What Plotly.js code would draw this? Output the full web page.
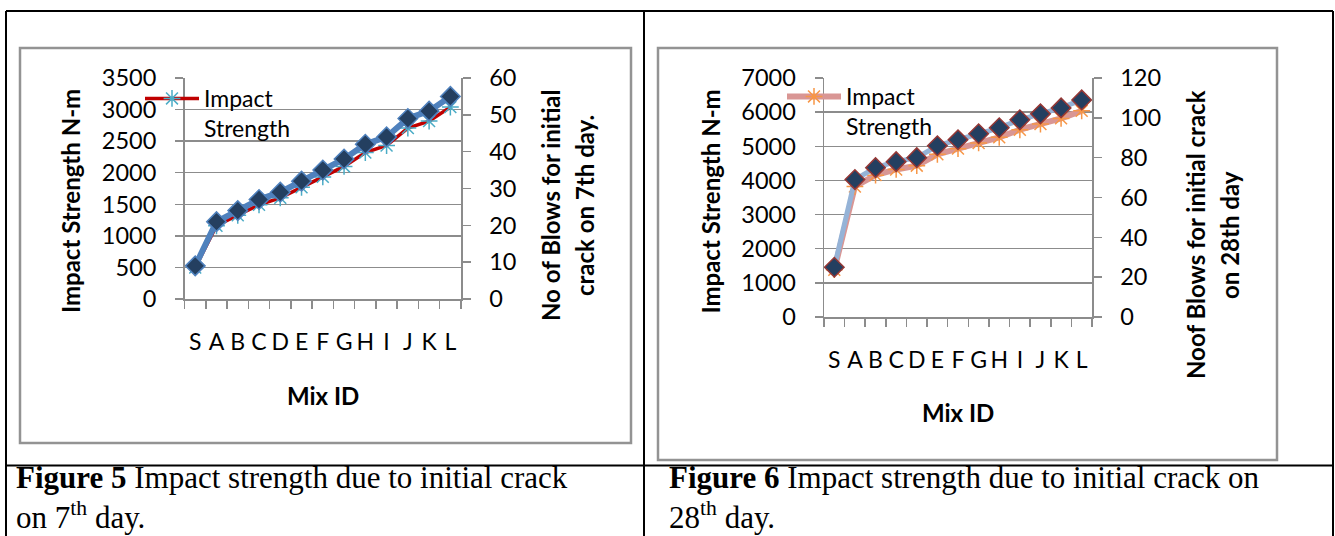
<!DOCTYPE html>
<html>
<head>
<meta charset="utf-8">
<script src="https://cdn.plot.ly/plotly-3.0.1.min.js"></script>
<style>
  html, body { margin: 0; padding: 0; background: #ffffff; }
  #chart { width: 1335px; height: 536px; }
</style>
</head>
<body>
<div id="chart"></div>
<script>
// ---- data ----
const mixIds = ['S', 'A', 'B', 'C', 'D', 'E', 'F', 'G', 'H', 'I', 'J', 'K', 'L'];
// Figure 5 (7th day)
const impact7 = [497, 1160, 1326, 1492, 1602, 1768, 1934, 2100, 2320, 2431, 2707, 2818, 3039];
const blows7 = [9, 21, 24, 27, 29, 32, 35, 38, 42, 44, 49, 51, 55];
// Figure 6 (28th day)
const impact28 = [1385, 3823, 4155, 4321, 4432, 4764, 4931, 5097, 5263, 5485, 5651, 5817, 6039];
const blows28 = [25, 69, 75, 78, 80, 86, 89, 92, 95, 99, 102, 105, 109];

const seriesName = 'Impact<br>Strength';
const fig5Title = ['<b>Figure 5</b> Impact strength due to initial crack', 'on 7<sup>th</sup> day.'];
const fig6Title = ['<b>Figure 6</b> Impact strength due to initial crack on', '28<sup>th</sup> day.'];

// ---- layout helpers (pixel -> paper) ----
const W = 1335, H = 536;
const X = px => px / W;
const Y = py => 1 - py / H;

const FONT = 'Lato, "Open Sans", sans-serif';
const SERIF = '"Liberation Serif", "Times New Roman", serif';
const GRID = '#8C8C8C';

function xAxis(domain, anchor) {
  return {
    domain: domain, anchor: anchor, type: 'category',
    categoryorder: 'array', categoryarray: mixIds,
    range: [-0.5, 12.5], tickson: 'boundaries',
    tickmode: 'linear', tick0: 0, dtick: 1, tickangle: 0,
    ticks: 'outside', ticklen: 8, tickwidth: 1.5, tickcolor: GRID,
    showline: true, linecolor: GRID, linewidth: 1.5,
    showgrid: false, zeroline: false,
    tickfont: {family: FONT, size: 23, color: '#000'},
    ticklabelstandoff: 22, fixedrange: true
  };
}
function yLeft(domain, anchor, max, dtick) {
  return {
    domain: domain, anchor: anchor, range: [0, max], dtick: dtick,
    ticks: 'outside', ticklen: 8, tickwidth: 1.5, tickcolor: GRID,
    showline: true, linecolor: GRID, linewidth: 1.5,
    showgrid: true, gridcolor: GRID, gridwidth: 1.5, zeroline: false,
    tickfont: {family: FONT, size: 23.5, color: '#000'},
    ticklabelstandoff: 14, fixedrange: true
  };
}
function yRight(overlay, anchor, max, dtick) {
  return {
    overlaying: overlay, anchor: anchor, side: 'right', range: [0, max], dtick: dtick,
    ticks: 'outside', ticklen: 8, tickwidth: 1.5, tickcolor: GRID,
    showline: true, linecolor: GRID, linewidth: 1.5,
    showgrid: false, zeroline: false,
    tickfont: {family: FONT, size: 23.5, color: '#000'},
    ticklabelstandoff: 14, fixedrange: true
  };
}

const traces = [
  {
    x: mixIds, y: impact7, xaxis: 'x', yaxis: 'y', type: 'scatter', mode: 'lines+markers',
    name: seriesName, legend: 'legend',
    line: {color: '#C00000', width: 3.5},
    marker: {symbol: 'asterisk-open', size: 14, color: '#4BACC6', line: {color: '#4BACC6', width: 1.5}}
  },
  {
    x: mixIds, y: blows7, xaxis: 'x', yaxis: 'y2', type: 'scatter', mode: 'lines+markers',
    name: 'No of Blows', showlegend: false,
    line: {color: '#4F81BD', width: 6},
    marker: {symbol: 'diamond', size: 15, color: '#243F60', line: {color: '#4F81BD', width: 1.5}}
  },
  {
    x: mixIds, y: impact28, xaxis: 'x2', yaxis: 'y3', type: 'scatter', mode: 'lines+markers',
    name: seriesName, legend: 'legend2',
    line: {color: '#D99694', width: 6},
    marker: {symbol: 'asterisk-open', size: 14, color: '#F79646', line: {color: '#F79646', width: 1.5}}
  },
  {
    x: mixIds, y: blows28, xaxis: 'x2', yaxis: 'y4', type: 'scatter', mode: 'lines+markers',
    name: 'No of Blows', showlegend: false,
    line: {color: '#95B3D7', width: 5},
    marker: {symbol: 'diamond', size: 15, color: '#243F60', line: {color: '#953735', width: 1.5}}
  }
];

function hline(x0, x1, y, color, w) {
  return {type: 'line', xref: 'paper', yref: 'paper', x0: X(x0), x1: X(x1), y0: Y(y), y1: Y(y), line: {color: color, width: w}};
}
function vline(x, y0, y1, color, w) {
  return {type: 'line', xref: 'paper', yref: 'paper', x0: X(x), x1: X(x), y0: Y(y0), y1: Y(y1), line: {color: color, width: w}};
}
function rect(x0, y0, x1, y1, color, w) {
  return {type: 'rect', xref: 'paper', yref: 'paper', x0: X(x0), x1: X(x1), y0: Y(y0), y1: Y(y1), line: {color: color, width: w}, layer: 'below'};
}

const shapes = [
  hline(6, 1333, 11, '#000', 2),
  vline(6, 11, 536, '#000', 2),
  vline(1333, 11, 536, '#000', 2),
  vline(644, 11, 536, '#000', 2),
  hline(6, 1333, 465.5, '#000', 2),
  rect(20, 48, 631, 443, '#939393', 2.5),
  rect(658, 48, 1277, 460, '#939393', 2.5)
];

function ann(text, x, y, opts) {
  return Object.assign({
    text: text, xref: 'paper', yref: 'paper', x: X(x), y: Y(y),
    xanchor: 'center', yanchor: 'middle', showarrow: false,
    font: {family: FONT, size: 24, color: '#000'}
  }, opts || {});
}

const capFont = {family: SERIF, size: 31, color: '#000'};
const capOpts = {xanchor: 'left', font: capFont, borderpad: 0};
const annotations = [
  ann('<b>Impact Strength N-m</b>', 70.5, 201.5, {textangle: -90}),
  ann('<b>No of Blows for initial</b>', 550, 205, {textangle: -90}),
  ann('<b>crack on 7th day.</b>', 585, 206, {textangle: -90}),
  ann('<b>Mix ID</b>', 323, 395),
  ann('<b>Impact Strength N-m</b>', 710, 201.5, {textangle: -90}),
  ann('<b>Noof Blows for initial crack</b>', 1195, 235, {textangle: -90}),
  ann('<b>on 28th day</b>', 1229, 235, {textangle: -90}),
  ann('<b>Mix ID</b>', 958, 412),
  ann(fig5Title[0], 15, 477.5, capOpts),
  ann(fig5Title[1], 15, 515, capOpts),
  ann(fig6Title[0], 668, 477.5, capOpts),
  ann(fig6Title[1], 668, 515, capOpts)
];

const legendBase = {
  xanchor: 'left', yanchor: 'top', bgcolor: 'rgba(0,0,0,0)', borderwidth: 0,
  font: {family: FONT, size: 23, color: '#000'}, valign: 'top', itemwidth: 54,
  itemclick: false, itemdoubleclick: false
};

const layout = {
  width: W, height: H, autosize: false,
  margin: {l: 0, r: 0, t: 0, b: 0, pad: 0},
  paper_bgcolor: '#ffffff', plot_bgcolor: 'rgba(0,0,0,0)',
  font: {family: FONT, size: 23, color: '#000'},
  xaxis: xAxis([X(184.6), X(461)], 'y'),
  yaxis: yLeft([Y(299), Y(78)], 'x', 3500, 500),
  yaxis2: yRight('y', 'x', 60, 10),
  xaxis2: xAxis([X(824), X(1092)], 'y3'),
  yaxis3: yLeft([Y(317), Y(78)], 'x2', 7000, 1000),
  yaxis4: yRight('y3', 'x2', 120, 20),
  legend: Object.assign({x: X(140), y: Y(77)}, legendBase),
  legend2: Object.assign({x: X(782), y: Y(75)}, legendBase),
  shapes: shapes,
  annotations: annotations,
  showlegend: true
};

Plotly.newPlot('chart', traces, layout, {staticPlot: true, displayModeBar: false});
</script>
</body>
</html>
